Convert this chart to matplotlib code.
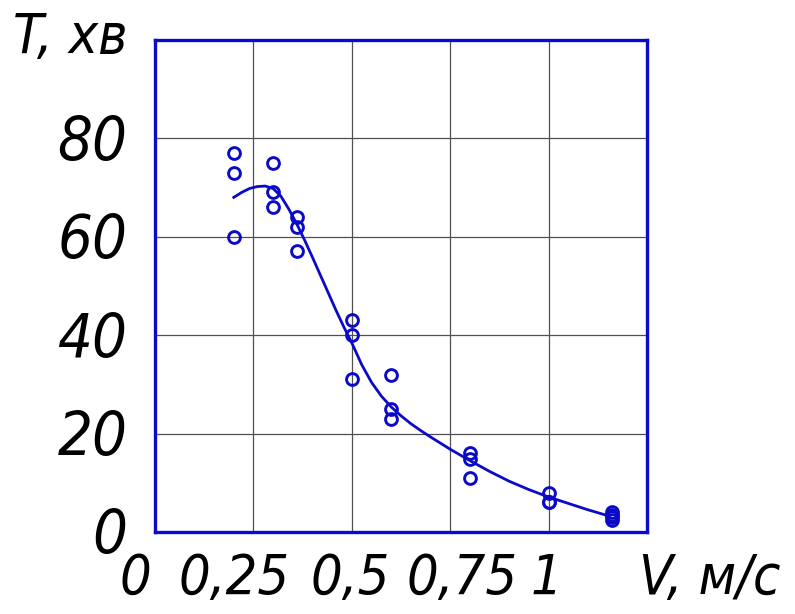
import matplotlib
matplotlib.use('Agg')
import matplotlib.pyplot as plt

# Експериментальні точки: швидкість V (м/с) і час T (хв)
v_points = [0.2, 0.2, 0.2,
            0.3, 0.3, 0.3,
            0.36, 0.36, 0.36,
            0.5, 0.5, 0.5,
            0.6, 0.6, 0.6,
            0.8, 0.8, 0.8,
            1.0, 1.0, 1.0,
            1.16, 1.16, 1.16, 1.16]
t_points = [77, 73, 60,
            75, 69, 66,
            64, 62, 57,
            43, 40, 31,
            32, 25, 23,
            16, 14.8, 11,
            8, 6, 6,
            4, 3.5, 3, 2.5]

# Апроксимуюча крива
v_curve = [0.20, 0.22, 0.24, 0.26, 0.28, 0.30, 0.32, 0.34, 0.36, 0.38,
           0.40, 0.42, 0.44, 0.46, 0.48, 0.500, 0.525, 0.550, 0.575, 0.600,
           0.625, 0.650, 0.675, 0.700, 0.75, 0.80, 0.85, 0.90, 0.95, 1.00,
           1.05, 1.10, 1.155]
t_curve = [68.0, 69.0, 69.8, 70.2, 70.3, 69.8, 68.2, 65.6, 62.6, 59.3,
           55.8, 52.2, 48.6, 45.0, 41.6, 38.4, 34.0, 30.4, 27.6, 25.4,
           23.6, 22.0, 20.6, 19.3, 16.8, 14.5, 12.3, 10.3, 8.6, 7.1,
           5.8, 4.5, 3.2]

x_labels = ['0', '0,25', '0,5', '0,75', '1']
y_ticks = [0, 20, 40, 60, 80]
y_labels = ['0', '20', '40', '60', '80']

# розташування підписів по осі X (як на кресленні)
x_label_pos = [-0.05, 0.2, 0.495, 0.78, 0.995]

blue = '#0a0ac8'
font = dict(family='DejaVu Sans', stretch='condensed', style='italic')

fig = plt.figure(figsize=(7.95, 6.14), dpi=100)
ax = fig.add_axes([0.195, 0.1336, 0.619, 0.8014])

ax.plot(v_curve, t_curve, color=blue, lw=2.0, zorder=3)
ax.plot(v_points, t_points, 'o', mfc='none', mec=blue, mew=2.1, ms=8.5, zorder=4)

ax.set_xlim(0, 1.25)
ax.set_ylim(0, 100)
ax.set_xticks([0.25, 0.5, 0.75, 1.0])
ax.set_yticks([20, 40, 60, 80])
ax.grid(True, color='#505050', lw=0.9)
ax.tick_params(length=0, labelbottom=False, labelleft=False)
for s in ax.spines.values():
    s.set_color(blue)
    s.set_linewidth(2.4)

# підписи осей
for x, lab in zip(x_label_pos, x_labels):
    ax.text(x, -9.5, lab, ha='center', va='center', fontsize=40, **font)
for y, lab in zip(y_ticks, y_labels):
    ax.text(-0.07, y - 1, lab, ha='right', va='center', fontsize=44, **font)

ax.text(1.41, -9.5, 'V, м/с', ha='center', va='center', fontsize=40, **font, clip_on=False)
ax.text(-0.216, 100.5, 'T, хв', ha='center', va='center', fontsize=40, **font, clip_on=False)

fig.savefig('out.png', dpi=100)
